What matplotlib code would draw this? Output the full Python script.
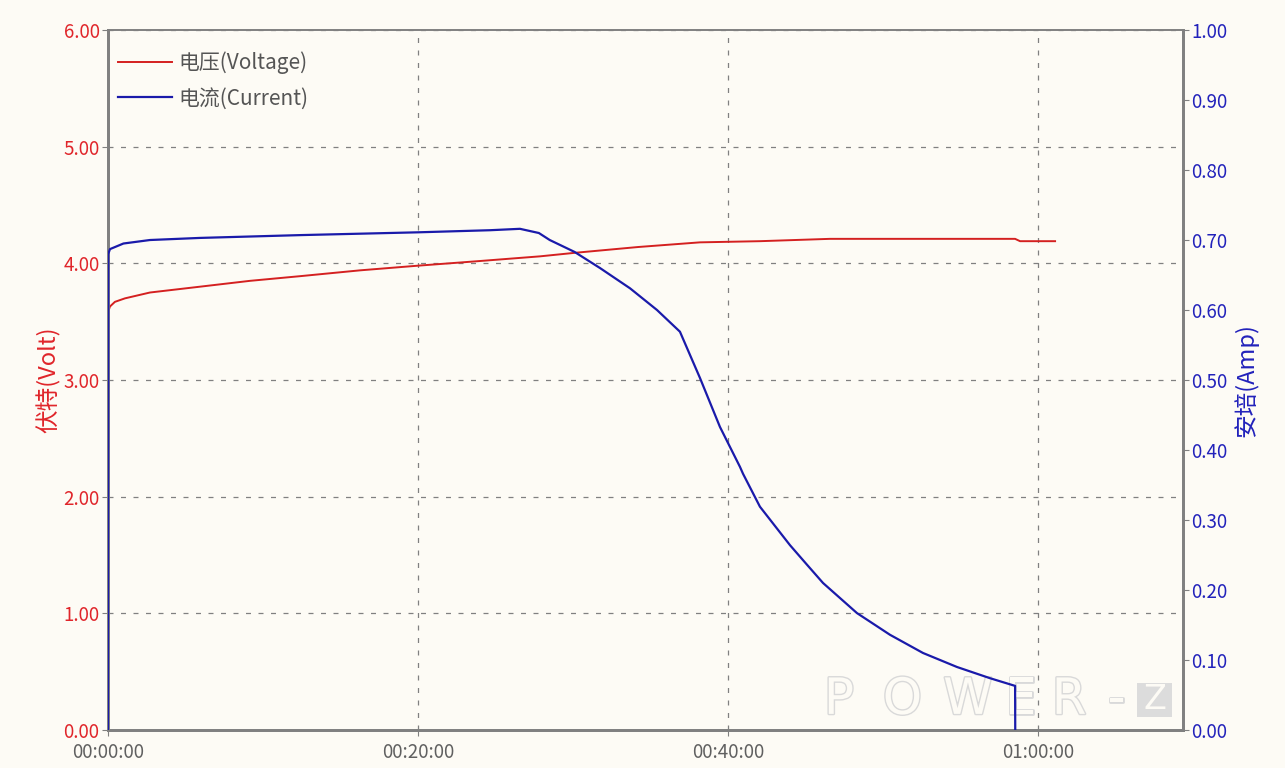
import matplotlib
matplotlib.use("Agg")
import matplotlib.pyplot as plt
import matplotlib.patheffects as pe
from matplotlib.patches import Rectangle
from matplotlib.ticker import FuncFormatter, MultipleLocator

plt.rcParams['font.family'] = ['Noto Sans CJK SC', 'DejaVu Sans']

# time in minutes
volt_t = [0, 0.13, 0.45, 1.1, 2.71, 5.94, 9.16, 12.39, 16.26, 20, 22, 24, 27.87,
          30.1, 34.2, 38.19, 42.06, 46.58, 58.52, 58.84, 61.1]
volt_v = [3.58, 3.63, 3.67, 3.70, 3.75, 3.80, 3.85, 3.89, 3.94, 3.98, 4.00, 4.02, 4.06,
          4.09, 4.14, 4.18, 4.19, 4.21, 4.21, 4.19, 4.19]

amp_t = [0, 0.02, 0.13, 1.0, 2.71, 5.94, 12.39, 20, 24.65, 26.58, 27.8, 28.5, 30.1,
         31.74, 33.68, 35.42, 36.9, 38.19, 39.48, 40.77, 40.97, 42.06, 44.0,
         45.1, 46.13, 48.32, 50.45, 52.58, 54.77, 56.9, 58.52, 58.53]
amp_i = [0.0, 0.68, 0.687, 0.695, 0.70, 0.703, 0.707, 0.711, 0.714, 0.716, 0.710, 0.700, 0.683,
         0.66, 0.631, 0.600, 0.569, 0.503, 0.433, 0.376, 0.366, 0.319, 0.264,
         0.236, 0.210, 0.167, 0.136, 0.110, 0.090, 0.074, 0.063, 0.0]

# watermark letters and their centres (axes fraction)
wm_letters = ['P', 'O', 'W', 'E', 'R', '-']
wm_x = [0.680, 0.739, 0.800, 0.849, 0.894, 0.938]

bg = '#fdfbf5'
grey = '#808080'
red = '#e0252a'
blue = '#2222bb'

fig = plt.figure(figsize=(12.85, 7.68), dpi=100, facecolor=bg)
ax = fig.add_axes([0.084, 0.0495, 0.8366, 0.9114], facecolor=bg)
ax2 = ax.twinx()

l1, = ax.plot(volt_t, volt_v, color='#d42020', lw=1.4, label='电压(Voltage)', zorder=3)
l2, = ax2.plot(amp_t, amp_i, color='#1a1aaa', lw=1.6, label='电流(Current)', zorder=3)

ax.set_xlim(0, 69.35)
ax.set_ylim(0, 6)
ax2.set_ylim(0, 1)

ax.yaxis.set_major_locator(MultipleLocator(1))
ax2.yaxis.set_major_locator(MultipleLocator(0.1))
ax.xaxis.set_major_locator(MultipleLocator(20))
ax.yaxis.set_major_formatter(FuncFormatter(lambda v, p: f'{v:.2f}'))
ax2.yaxis.set_major_formatter(FuncFormatter(lambda v, p: f'{v:.2f}'))
ax.xaxis.set_major_formatter(FuncFormatter(
    lambda v, p: f'{int(v // 60):02d}:{int(v % 60):02d}:00'))

ax.grid(True, color=grey, ls=(0, (4, 6)), lw=0.9)

for a in (ax, ax2):
    for s in a.spines.values():
        s.set_color(grey)
    a.spines['left'].set_linewidth(2)
    a.spines['bottom'].set_linewidth(2)
    a.spines['right'].set_linewidth(2)
    a.spines['top'].set_linewidth(1.2)

ax.tick_params(axis='y', colors=grey, labelcolor=red, labelsize=13.5, length=4, pad=2)
ax.tick_params(axis='x', colors=grey, labelcolor='#606060', labelsize=13.5, length=4, pad=5)
ax2.tick_params(axis='y', colors=grey, labelcolor=blue, labelsize=13.5, length=4, pad=2)

ax.set_ylabel('伏特(Volt)', color=red, fontsize=17, labelpad=2)
ax2.set_ylabel('安培(Amp)', color=blue, fontsize=17, labelpad=4)

leg = ax.legend(handles=[l1, l2], loc='upper left', bbox_to_anchor=(0.0016, 0.981),
                frameon=False, fontsize=15, handlelength=2.6, handletextpad=0.3,
                labelspacing=0.63, borderaxespad=0, labelcolor='#555555')

# watermark "POWER-Z": outlined letters and the boxed Z
for ch, xx in zip(wm_letters, wm_x):
    ax.text(xx, 0.043, ch, transform=ax.transAxes, ha='center', va='center',
            fontsize=36, color=bg, family='DejaVu Sans', zorder=1,
            path_effects=[pe.withStroke(linewidth=2, foreground='#d9d9d9')])
ax.add_patch(Rectangle((0.957, 0.0186), 0.033, 0.048, transform=ax.transAxes,
                       facecolor='#dcdcdc', edgecolor='none', zorder=1))
ax.text(0.9735, 0.043, 'Z', transform=ax.transAxes, ha='center', va='center',
        fontsize=24, color=bg, family='DejaVu Sans', zorder=1)

fig.savefig('out.png', dpi=100, facecolor=bg)
